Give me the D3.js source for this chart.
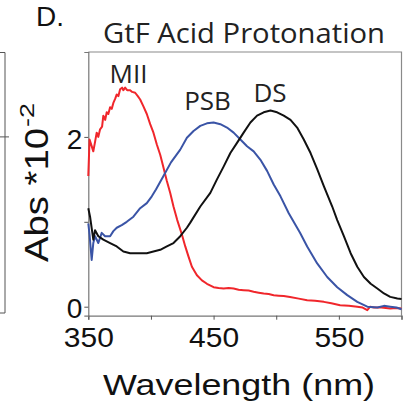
<!DOCTYPE html>
<html>
<head>
<meta charset="utf-8">
<script src="https://cdn.jsdelivr.net/npm/d3@7"></script>
<style>
  html, body { margin: 0; padding: 0; background: #fff; }
  svg { display: block; }
</style>
</head>
<body>
<svg id="chart" width="404" height="411"></svg>
<script>
// Absorbance spectra (Abs x 10^-2) of the acid-protonated GtF pigment states
const wavelengthMII = [350, 351, 352.5, 354, 355.5, 356.7, 358, 359.4, 361, 362, 363.5, 364.7, 366, 367.4, 368.7, 370, 371.5, 372.7, 374, 375.4, 377, 378, 379.4, 381, 383.4, 385, 387.4, 389.5, 391.4, 394, 396.7, 399.4, 402, 404.7, 407.4, 410, 412.7, 415.4, 418, 421, 424.7, 427.4, 430, 432.7, 436.7, 440.7, 444.7, 450, 454, 458, 462, 466, 470, 474, 478, 482, 486, 490, 494, 498, 502, 506, 511, 518, 524.7, 531, 538, 544, 551, 558, 564.7, 569, 572.7, 575, 578, 584, 591, 596, 600];
const absMII = [1.54, 1.97, 1.90, 1.83, 1.95, 2.05, 2.00, 2.09, 2.12, 2.25, 2.20, 2.29, 2.27, 2.35, 2.33, 2.40, 2.45, 2.50, 2.48, 2.56, 2.58, 2.55, 2.58, 2.55, 2.55, 2.53, 2.52, 2.48, 2.44, 2.36, 2.27, 2.15, 2.05, 1.91, 1.79, 1.64, 1.48, 1.34, 1.18, 1.02, 0.85, 0.71, 0.59, 0.47, 0.37, 0.31, 0.27, 0.23, 0.22, 0.215, 0.22, 0.215, 0.20, 0.195, 0.19, 0.175, 0.165, 0.155, 0.15, 0.135, 0.13, 0.125, 0.115, 0.095, 0.077, 0.07, 0.057, 0.04, 0.018, 0.01, 0.0, -0.01, -0.04, 0.0, -0.01, -0.01, -0.02, -0.015, -0.02];

const wavelengthPSB = [350, 351, 352.7, 354, 355.4, 358, 360.7, 363.4, 367.4, 370, 372.7, 376.7, 380.7, 386, 391.4, 396.7, 400.7, 404, 410, 416, 423.4, 428.7, 434, 439.4, 444.7, 450, 455.4, 460.7, 466, 471.4, 476.7, 482, 487.4, 492.7, 498, 503.4, 510, 519, 524.7, 532.7, 540.7, 548.7, 556.7, 564.7, 572.7, 580.7, 586, 591, 596, 600];
const absPSB = [0.98, 0.85, 0.55, 0.75, 0.83, 0.75, 0.87, 0.83, 0.83, 0.89, 0.93, 0.96, 1.00, 1.06, 1.16, 1.22, 1.30, 1.38, 1.54, 1.70, 1.85, 1.99, 2.07, 2.13, 2.16, 2.17, 2.15, 2.11, 2.05, 1.97, 1.89, 1.83, 1.73, 1.60, 1.44, 1.30, 1.10, 0.87, 0.71, 0.51, 0.35, 0.23, 0.136, 0.057, 0.0, -0.01, 0.01, 0.0, -0.01, -0.03];

const wavelengthDS = [350, 351.4, 354, 355.4, 358, 362, 367.4, 372.7, 378, 383.4, 390, 396.7, 402, 407.4, 412.7, 418, 423.4, 428.7, 431.4, 439.4, 447.4, 452.7, 458, 463.4, 468.7, 474, 479.4, 484.7, 490, 495.4, 500.7, 506, 511.4, 516.7, 522, 527.4, 532.7, 538, 544.7, 548.7, 554, 559.4, 564.7, 570, 575.4, 580.7, 586, 591, 596.7, 600];
const absDS = [1.16, 1.06, 0.79, 0.90, 0.83, 0.79, 0.75, 0.71, 0.65, 0.63, 0.63, 0.63, 0.65, 0.67, 0.71, 0.75, 0.83, 0.93, 0.99, 1.18, 1.34, 1.50, 1.65, 1.81, 1.93, 2.05, 2.17, 2.25, 2.29, 2.31, 2.29, 2.25, 2.20, 2.11, 1.97, 1.81, 1.62, 1.42, 1.18, 1.02, 0.83, 0.63, 0.47, 0.35, 0.27, 0.215, 0.156, 0.116, 0.097, 0.092];

const xTicks = [350, 400, 450, 500, 550, 600];
const xTickLabels = ["350", "", "450", "", "550", ""];
const yTicks = [0, 1, 2];
const yTickLabels = ["0", "", "2"];

const seriesNames = ["MII", "PSB", "DS"];
const seriesColors = ["#f0262b", "#3a54a6", "#111111"];

const svg = d3.select("#chart");
const sans = "'Liberation Sans', Arial, sans-serif";
const titleFont = "'Open Sans', 'Noto Sans', sans-serif";

const plot = { left: 88.3, right: 401.5, top: 52, bottom: 315.7 };
const x = d3.scaleLinear().domain([350, 600]).range([plot.left, plot.right]);
const y = d3.scaleLinear().domain([-0.106, 3]).range([plot.bottom, plot.top]);

// neighbouring panel edge on the far left
const nb = svg.append("g").attr("stroke", "#555").attr("stroke-width", 1).attr("fill", "none");
nb.append("path").attr("d", "M0,52.5H5V313H0");
nb.append("line").attr("x1", 0).attr("x2", 9).attr("y1", y(2)).attr("y2", y(2));

// panel letter and title
svg.append("text").attr("x", 36).attr("y", 25.5)
  .attr("font-family", sans).attr("font-size", 28).attr("fill", "#111").text("D.");
svg.append("text").attr("x", 103).attr("y", 42.5)
  .attr("font-family", titleFont).attr("font-size", 27)
  .attr("textLength", 282).attr("lengthAdjust", "spacingAndGlyphs")
  .attr("fill", "#222").text("GtF Acid Protonation");

// frame (top and right)
svg.append("path").attr("d", `M${plot.left},${plot.top}H${plot.right}V${plot.bottom}`)
  .attr("fill", "none").attr("stroke", "#8a8a8a").attr("stroke-width", 1.2);

// x axis
const xAxis = d3.axisBottom(x).tickValues(xTicks).tickSize(4)
  .tickFormat((d, i) => xTickLabels[i]);
const gx = svg.append("g").attr("transform", `translate(0,${plot.bottom})`).call(xAxis);
gx.select(".domain").attr("stroke", "#777").attr("stroke-width", 1.2);
gx.selectAll(".tick line").attr("stroke", "#555");
gx.selectAll(".tick text").attr("font-family", sans).attr("font-size", 28)
  .attr("fill", "#111").attr("y", 11).attr("dy", "0.71em")
  .attr("textLength", d => xTickLabels[xTicks.indexOf(d)] ? 50 : null)
  .attr("lengthAdjust", "spacingAndGlyphs");

// y axis
const yAxis = d3.axisLeft(y).tickValues(yTicks).tickSize(4)
  .tickFormat((d, i) => yTickLabels[i]);
const gy = svg.append("g").attr("transform", `translate(${plot.left},0)`).call(yAxis);
gy.select(".domain").attr("stroke", "#777").attr("stroke-width", 1.2);
gy.selectAll(".tick line").attr("stroke", "#555");
gy.selectAll(".tick text").attr("font-family", sans).attr("font-size", 28)
  .attr("fill", "#111").attr("x", -6).attr("dy", "0.4em");

// axis titles
svg.append("text").attr("x", 103).attr("y", 395)
  .attr("font-family", sans).attr("font-size", 30)
  .attr("textLength", 272).attr("lengthAdjust", "spacingAndGlyphs")
  .attr("fill", "#111").text("Wavelength (nm)");

const yTitle = svg.append("text")
  .attr("transform", "translate(48,262) rotate(-90)")
  .attr("font-family", sans).attr("font-size", 34).attr("fill", "#111");
yTitle.append("tspan").attr("textLength", 134).attr("lengthAdjust", "spacingAndGlyphs")
  .text("Abs *10");
yTitle.append("tspan").attr("font-size", 21).attr("dy", -14).attr("dx", 1)
  .attr("textLength", 24).attr("lengthAdjust", "spacingAndGlyphs").text("-2");

// spectra
const line = d3.line().x(d => x(d[0])).y(d => y(d[1]));
const series = [
  [wavelengthMII, absMII],
  [wavelengthPSB, absPSB],
  [wavelengthDS, absDS]
];
series.forEach(([wl, ab], i) => {
  svg.append("path")
    .datum(wl.map((w, k) => [w, ab[k]]))
    .attr("d", line)
    .attr("fill", "none")
    .attr("stroke", seriesColors[i])
    .attr("stroke-width", 2)
    .attr("stroke-linejoin", "round");
});

// curve labels
const labelPos = [[128.5, 83], [207.5, 110], [270, 102]];
seriesNames.forEach((n, i) => {
  svg.append("text").attr("x", labelPos[i][0]).attr("y", labelPos[i][1])
    .attr("text-anchor", "middle").attr("font-family", titleFont)
    .attr("font-size", 26).attr("fill", "#222").text(n);
});
</script>
</body>
</html>
